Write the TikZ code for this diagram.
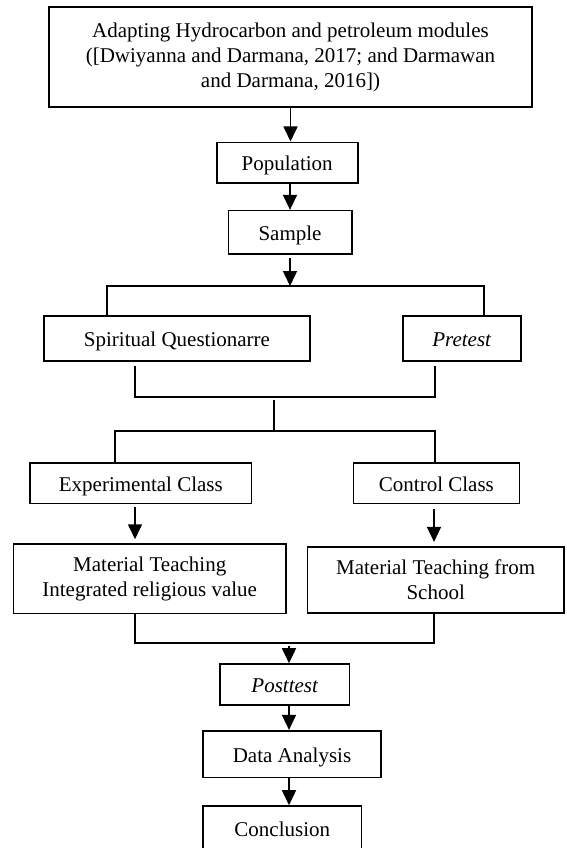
\documentclass[tikz,border=0pt]{standalone}
\usepackage{fontspec}
\setmainfont{Liberation Serif}
\usetikzlibrary{arrows.meta}
\begin{document}
\begin{tikzpicture}[x=1pt,y=-1pt,
  box/.style={draw, line width=1.6pt, inner sep=0pt, font=\fontsize{21pt}{25pt}\selectfont},
  one/.style={text height=16pt, text depth=0pt},
  wire/.style={line width=1.6pt},
  arr/.style={wire, -{Triangle[length=15pt,width=14pt]}}]
\useasboundingbox (0,0) rectangle (566,848);
\clip (0,0) rectangle (566,848);
% nodes
\node[box, align=center, minimum width=483pt, minimum height=100pt] (top) at (290.5,57)
  {Adapting Hydrocarbon and petroleum modules\\([Dwiyanna and Darmana, 2017; and Darmawan\\and Darmana, 2016])};
\node[box, one, minimum width=141pt, minimum height=40.4pt] (pop) at (287.2,162.5) {Population};
\node[box, one, minimum width=123.4pt, minimum height=43.3pt] (sample) at (290,232.3) {Sample};
\node[box, one, minimum width=266pt, minimum height=45pt] (spirit) at (177,338.5) {Spiritual Questionarre};
\node[box, one, minimum width=118pt, minimum height=45pt] (pre) at (461.7,338.5) {\itshape Pretest};
\node[box, one, minimum width=221.7pt, minimum height=40.6pt] (exp) at (140.8,483) {Experimental Class};
\node[box, one, minimum width=165.8pt, minimum height=40.6pt] (ctrl) at (436.4,483) {Control Class};
\node[box, align=center, minimum width=272.7pt, minimum height=69.3pt] (mat1) at (149.7,578.7)
  {Material Teaching\\Integrated religious value};
\node[box, align=center, minimum width=256.7pt, minimum height=66pt] (mat2) at (435.7,579.7)
  {Material Teaching from\\School};
\node[box, one, minimum width=129.5pt, minimum height=41pt] (post) at (284.7,684.5) {\itshape Posttest};
\node[box, one, minimum width=178pt, minimum height=46.6pt] (data) at (292,754) {Data Analysis};
\node[box, one, minimum width=158.7pt, minimum height=44pt] (concl) at (282.3,828) {Conclusion};
% junction coordinates
\coordinate (split) at (290,286);
\coordinate (sL) at (106.7,286);
\coordinate (sR) at (484,286);
\coordinate (mL) at (135,397);
\coordinate (mR) at (435,397);
\coordinate (mC) at (274,397);
\coordinate (bC) at (274,430.7);
\coordinate (bL) at (115,430.7);
\coordinate (bR) at (435,430.7);
\coordinate (xL) at (135,600);
\coordinate (xR) at (434,600);
\coordinate (jm) at (289,642.7);
% connectors
\draw[arr] (top.south) -- (top.south |- pop.north);
\draw[arr] (sample.north |- pop.south) -- (sample.north);
\draw[arr, shorten <=3pt] (sample.south) -- (split);
\draw[wire] (sL |- spirit.north) -- (sL) -- (sR) -- (sR |- pre.north);
\draw[wire, shorten <=4pt, shorten >=4pt] (mL |- spirit.south) -- (mL) -- (mR) -- (mR |- pre.south);
\draw[wire, shorten <=3pt] (mC) -- (bC);
\draw[wire] (bL |- exp.north) -- (bL) -- (bR) -- (bR |- ctrl.north);
\draw[arr, shorten <=3pt, shorten >=4pt] (xL |- exp.south) -- (xL |- mat1.north);
\draw[arr, shorten <=5pt, shorten >=4pt] (xR |- ctrl.south) -- (xR |- mat2.north);
\draw[wire] (xL |- mat1.south) -- (xL |- jm) -- (xR |- jm) -- (xR |- mat2.south);
\draw[arr, shorten <=3pt] (jm) -- (jm |- post.north);
\draw[arr] (jm |- post.south) -- (jm |- data.north);
\draw[arr] (jm |- data.south) -- (jm |- concl.north);
\end{tikzpicture}
\end{document}
